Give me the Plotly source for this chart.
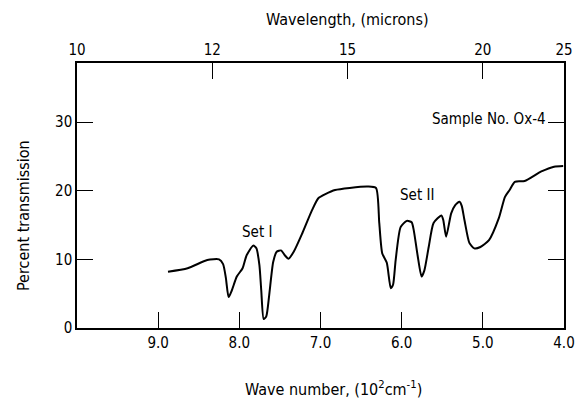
import plotly.graph_objects as go

# Spectrum trace (wave number in 10^2 cm^-1, percent transmission)
wave_number = [8.879, 8.637, 8.395, 8.25, 8.20, 8.166, 8.132, 8.092, 8.031, 7.96,
               7.91, 7.829, 7.79, 7.753, 7.73, 7.70, 7.668, 7.632, 7.583, 7.54,
               7.486, 7.44, 7.394, 7.33, 7.224, 7.103, 7.027, 6.94, 6.82, 6.64,
               6.418, 6.316, 6.276, 6.24, 6.183, 6.134, 6.106, 6.074, 6.013, 5.937,
               5.877, 5.852, 5.804, 5.755, 5.72, 5.667, 5.607, 5.51, 5.487, 5.452,
               5.39, 5.34, 5.287, 5.26, 5.226, 5.166, 5.105, 5.03, 4.924, 4.803,
               4.727, 4.67, 4.606, 4.485, 4.279, 4.122, 4.01]
transmission = [8.2, 8.7, 9.9, 10.0, 9.3, 7.3, 4.5, 5.5, 7.5, 8.7,
                10.6, 12.0, 11.6, 9.2, 5.5, 1.3, 1.7, 4.8, 9.6, 11.1,
                11.3, 10.6, 10.1, 11.1, 13.8, 17.2, 18.9, 19.5, 20.1, 20.4,
                20.6, 20.4, 15.3, 10.9, 9.5, 5.8, 6.3, 9.9, 14.7, 15.6,
                15.4, 14.3, 10.6, 7.5, 8.4, 11.8, 15.3, 16.4, 15.7, 13.3,
                16.7, 17.9, 18.4, 17.8, 15.7, 12.4, 11.6, 11.8, 12.8, 16.0,
                19.1, 20.1, 21.3, 21.4, 22.8, 23.5, 23.6]

bottom_ticks = [9.0, 8.0, 7.0, 6.0, 5.0, 4.0]
bottom_labels = ["9.0", "8.0", "7.0", "6.0", "5.0", "4.0"]
wavelength_microns = [10, 12, 15, 20, 25]
y_ticks = [0, 10, 20, 30]

FONT = "Liberation Sans Narrow, DejaVu Sans Condensed, Arial Narrow, Liberation Sans, sans-serif"

fig = go.Figure()
fig.add_trace(go.Scatter(x=wave_number, y=transmission, mode="lines",
                         line=dict(color="black", width=2, shape="spline", smoothing=0.6),
                         showlegend=False, hoverinfo="skip"))
# invisible trace to activate top axis
fig.add_trace(go.Scatter(x=[10, 4], y=[0, 0], xaxis="x2", mode="lines",
                         line=dict(width=0), showlegend=False, hoverinfo="skip"))

axis_common = dict(showline=True, linecolor="black", linewidth=1.5, ticks="inside",
                   ticklen=16, tickwidth=1.3, tickcolor="black", showgrid=False,
                   zeroline=False, tickfont=dict(family=FONT, size=15, color="black"))

fig.update_layout(
    width=587, height=400, plot_bgcolor="white", paper_bgcolor="white",
    margin=dict(l=77, r=14, t=63, b=72),
    xaxis=dict(range=[10, 4], tickvals=bottom_ticks, ticktext=bottom_labels, **axis_common),
    xaxis2=dict(range=[10, 4], overlaying="x", side="top",
                tickvals=[100 / w for w in wavelength_microns],
                ticktext=[str(w) for w in wavelength_microns], **axis_common),
    yaxis=dict(range=[0, 38.6], tickvals=y_ticks, ticktext=[str(v) for v in y_ticks],
               mirror="ticks", **axis_common),
    font=dict(family=FONT, color="black"),
)

annots = [
    dict(text="Wavelength, (microns)", x=353, y=19, size=16),
    dict(text="Wave number, (10<sup>2</sup>cm<sup>-1</sup>)", x=338, y=388, size=16),
]
for a in annots:
    fig.add_annotation(text=a["text"], xref="paper", yref="paper",
                       x=(a["x"] - 77) / (587 - 77 - 14), y=1 - (a["y"] - 63) / (400 - 63 - 72),
                       showarrow=False, font=dict(family=FONT, size=a["size"], color="black"),
                       xanchor="center", yanchor="middle")
fig.add_annotation(text="Percent transmission", xref="paper", yref="paper",
                   x=(22 - 77) / (587 - 77 - 14), y=1 - (215 - 63) / (400 - 63 - 72),
                   textangle=-90, showarrow=False, xanchor="center", yanchor="middle",
                   font=dict(family=FONT, size=16, color="black"))

labels = [("Set I", 7.78, 14.0), ("Set II", 5.81, 19.4), ("Sample No. Ox-4", 4.93, 30.4)]
for t, x, y in labels:
    fig.add_annotation(text=t, x=x, y=y, xref="x", yref="y", showarrow=False,
                       font=dict(family=FONT, size=15, color="black"))

fig.write_html("out.html")
